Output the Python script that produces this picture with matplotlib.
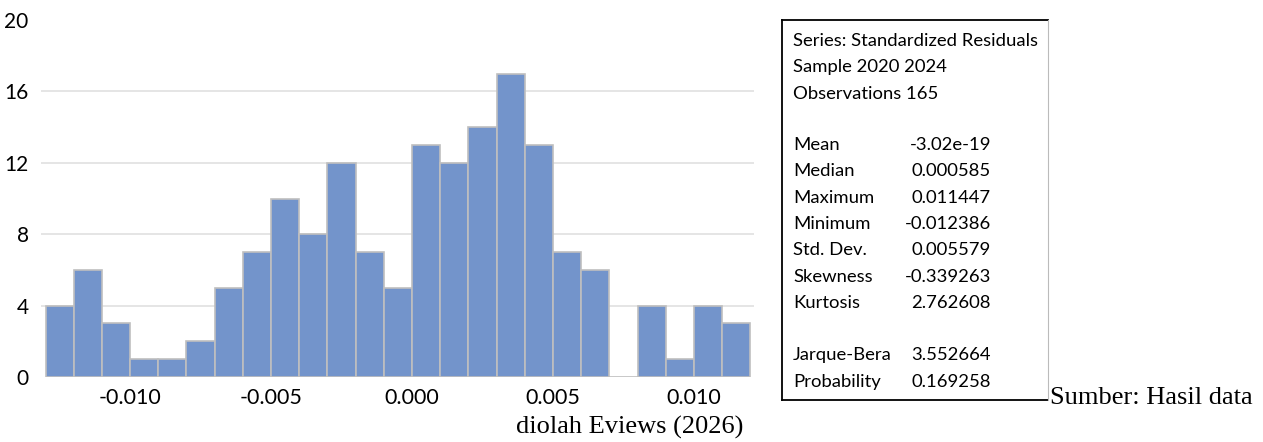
import matplotlib
matplotlib.use("Agg")
import matplotlib.pyplot as plt
from matplotlib.lines import Line2D

# ── data ─────────────────────────────────────────────────────────────────────
bin_left = [-0.013, -0.012, -0.011, -0.010, -0.009, -0.008, -0.007, -0.006,
            -0.005, -0.004, -0.003, -0.002, -0.001, 0.000, 0.001, 0.002,
            0.003, 0.004, 0.005, 0.006, 0.007, 0.008, 0.009, 0.010, 0.011]
counts = [4, 6, 3, 1, 1, 2, 5, 7, 10, 8, 12, 7, 5, 13, 12, 14, 17, 13, 7, 6,
          0, 4, 1, 4, 3]
bin_width = 0.001

x_ticks = [-0.010, -0.005, 0.000, 0.005, 0.010]
x_ticklabels = ["-0.010", "-0.005", "0.000", "0.005", "0.010"]
y_ticks = [0, 4, 8, 12, 16, 20]

header_lines = ["Series: Standardized Residuals", "Sample 2020 2024",
                "Observations 165"]
stat_names = ["Mean", "Median", "Maximum", "Minimum", "Std. Dev.",
              "Skewness", "Kurtosis", "", "Jarque-Bera", "Probability"]
stat_values = ["-3.02e-19", "0.000585", "0.011447", "-0.012386", "0.005579",
               "-0.339263", "2.762608", "", "3.552664", "0.169258"]

W, H = 1263, 442
BAR = "#7394CB"
EDGE = "#BFBFBF"
SANS = "Lato"
SERIF = "Liberation Serif"

def fx(px):
    return px / W

def fy(py):
    return 1 - py / H

# ── plot ─────────────────────────────────────────────────────────────────────
fig = plt.figure(figsize=(W / 100, H / 100), dpi=100)
fig.patch.set_facecolor("white")
ax = fig.add_axes([fx(41), fy(377), fx(754 - 41), (377 - 20) / H])

ax.bar(bin_left, counts, width=bin_width, align="edge", color=BAR,
       edgecolor=EDGE, linewidth=1.2, zorder=3)

ax.set_xlim(-0.01316, 0.01213)
ax.set_ylim(0, 20)
ax.set_yticks(y_ticks)
ax.set_yticklabels([str(v) for v in y_ticks], fontsize=15, family=SANS)
ax.set_xticks(x_ticks)
ax.set_xticklabels(x_ticklabels, fontsize=15.5, family=SANS)
ax.tick_params(length=0, pad=8)
ax.tick_params(axis="y", pad=9)
for g in [4, 8, 12, 16]:
    ax.axhline(g, color="#E3E3E3", lw=1.3, zorder=1)
for s in ax.spines.values():
    s.set_visible(False)

# ── stats box ────────────────────────────────────────────────────────────────
x0, x1, y0, y1 = 782, 1048, 20, 400
fig.add_artist(Line2D([fx(x0), fx(x0)], [fy(y0), fy(y1)], color="black", lw=1.3))
fig.add_artist(Line2D([fx(x0), fx(x1)], [fy(y0), fy(y0)], color="black", lw=1.3))
fig.add_artist(Line2D([fx(x0), fx(x1)], [fy(y1), fy(y1)], color="black", lw=1.3))
fig.add_artist(Line2D([fx(x1), fx(x1)], [fy(y0), fy(y1)], color="#BBBBBB", lw=0.8))

FS = 13.3
row_h = 26.3
for i, line in enumerate(header_lines):
    fig.text(fx(793), fy(41 + i * row_h), line, fontsize=FS, family=SANS,
             va="center", ha="left")
for i, (name, val) in enumerate(zip(stat_names, stat_values)):
    yy = 145 + i * row_h
    fig.text(fx(793), fy(yy), name, fontsize=FS, family=SANS,
             va="center", ha="left")
    fig.text(fx(991), fy(yy), val, fontsize=FS, family=SANS,
             va="center", ha="right")

# ── source note ──────────────────────────────────────────────────────────────
fig.text(fx(1050), fy(398), "Sumber: Hasil data", fontsize=19, family=SERIF,
         va="center", ha="left")
fig.text(fx(516), fy(427), "diolah Eviews (2026)", fontsize=19, family=SERIF,
         va="center", ha="left")

fig.savefig("out.png", dpi=100, facecolor="white")
